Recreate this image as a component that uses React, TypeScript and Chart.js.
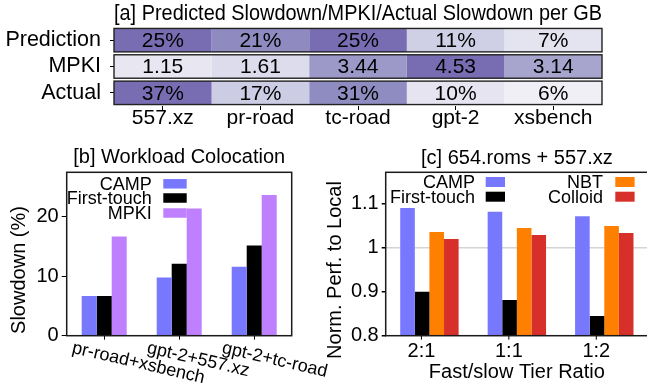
import React, { useEffect, useRef } from 'react';
import { Chart, registerables } from 'chart.js';

Chart.register(...registerables);

const FONT = "'Liberation Sans', Arial, Helvetica, sans-serif";

// ---------- [a] heatmap data ----------
const heatColumns = ['557.xz', 'pr-road', 'tc-road', 'gpt-2', 'xsbench'];
const heatRows = ['Prediction', 'MPKI', 'Actual'];
const predictionSlowdown = [25, 21, 25, 11, 7];
const mpkiValues = [1.15, 1.61, 3.44, 4.53, 3.14];
const actualSlowdown = [37, 17, 31, 10, 6];

// ---------- [b] workload colocation ----------
const colocationLabels = ['pr-road+xsbench', 'gpt-2+557.xz', 'gpt-2+tc-road'];
const colocationCamp = [6.7, 9.8, 11.6];
const colocationFirstTouch = [6.7, 12.1, 15.2];
const colocationMpki = [16.7, 21.4, 23.7];
const slowdownTicks = [0, 10, 20];

// ---------- [c] 654.roms + 557.xz ----------
const ratioLabels = ['2:1', '1:1', '1:2'];
const ratioCamp = [1.091, 1.082, 1.072];
const ratioFirstTouch = [0.9, 0.881, 0.845];
const ratioNbt = [1.036, 1.045, 1.05];
const ratioColloid = [1.02, 1.029, 1.034];
const perfTicks = [0.8, 0.9, 1, 1.1];

const COLORS = {
  camp: '#7878ff',
  first: '#000000',
  mpki: '#bf80ff',
  nbt: '#ff8000',
  colloid: '#d7302a',
};

const PURPLES = [
  [252, 251, 253], [239, 237, 245], [218, 218, 235], [188, 189, 220],
  [158, 154, 200], [128, 125, 186], [106, 81, 163], [84, 39, 143], [63, 0, 125],
];
function purples(p: number) {
  const s = Math.max(0, Math.min(1, p)) * 8;
  const i = Math.min(7, Math.floor(s));
  const f = s - i;
  const a = PURPLES[i], b = PURPLES[i + 1];
  const c = a.map((v, k) => Math.round(v + (b[k] - v) * f));
  return `rgb(${c[0]},${c[1]},${c[2]})`;
}
function heatColor(v: number, max: number) {
  return purples((v / max) * 0.67);
}

const framePlugin = {
  id: 'frame',
  afterDatasetsDraw(chart: any, _a: any, opts: any) {
    if (!opts || !opts.show) return;
    const { ctx, chartArea: ca } = chart;
    ctx.save();
    ctx.strokeStyle = '#1a1a1a';
    ctx.lineWidth = 1.5;
    ctx.strokeRect(ca.left, ca.top, ca.right - ca.left, ca.bottom - ca.top);
    ctx.restore();
  },
};

const shiftedTickMarks = {
  id: 'shiftedTickMarks',
  afterDraw(chart: any, _a: any, opts: any) {
    if (!opts || !opts.show) return;
    const { ctx, chartArea: ca } = chart;
    const xs = chart.scales.x;
    ctx.save();
    ctx.strokeStyle = '#000';
    ctx.lineWidth = 1;
    (chart.data.labels as string[]).forEach((_l, i) => {
      const px = xs.getPixelForValue(i) + opts.dx;
      ctx.beginPath();
      ctx.moveTo(px, ca.bottom);
      ctx.lineTo(px, ca.bottom + opts.length);
      ctx.stroke();
    });
    ctx.restore();
  },
};

const manualLegend = {
  id: 'manualLegend',
  afterDraw(chart: any, _a: any, opts: any) {
    if (!opts || !opts.entries) return;
    const ctx = chart.ctx;
    ctx.save();
    ctx.font = `${opts.fontSize}px ${FONT}`;
    ctx.textAlign = 'right';
    ctx.textBaseline = 'middle';
    opts.entries.forEach((e: any, i: number) => {
      const ds = chart.data.datasets[i];
      ctx.fillStyle = '#000';
      ctx.fillText(ds.label, e.textRight, e.y + 1);
      ctx.fillStyle = ds.backgroundColor;
      ctx.fillRect(e.boxLeft, e.y - opts.boxHeight / 2, e.boxWidth, opts.boxHeight);
    });
    ctx.restore();
  },
};

const yTitlePlugin = {
  id: 'yTitle',
  afterDraw(chart: any, _a: any, opts: any) {
    if (!opts || !opts.text) return;
    const ctx = chart.ctx;
    ctx.save();
    ctx.font = `${opts.fontSize}px ${FONT}`;
    ctx.fillStyle = '#000';
    ctx.textAlign = 'center';
    ctx.textBaseline = 'middle';
    ctx.translate(opts.x, opts.y);
    ctx.rotate(-Math.PI / 2);
    ctx.fillText(opts.text, 0, 0);
    ctx.restore();
  },
};

const slantedTicks = {
  id: 'slantedTicks',
  afterDraw(chart: any, _a: any, opts: any) {
    if (!opts || !opts.show) return;
    const ctx = chart.ctx;
    const xs = chart.scales.x;
    ctx.save();
    ctx.font = `${opts.fontSize}px ${FONT}`;
    ctx.fillStyle = '#000';
    ctx.textAlign = 'left';
    ctx.textBaseline = 'alphabetic';
    (chart.data.labels as string[]).forEach((lab, i) => {
      const px = xs.getPixelForValue(i);
      ctx.save();
      ctx.translate(px + opts.dx, opts.baselineY);
      ctx.rotate((opts.angle * Math.PI) / 180);
      ctx.fillText(lab, 0, 0);
      ctx.restore();
    });
    ctx.restore();
  },
};

const heatCells = {
  id: 'heatCells',
  afterDatasetsDraw(chart: any, _a: any, opts: any) {
    if (!opts || !opts.rows) return;
    const ctx = chart.ctx;
    const xs = chart.scales.x;
    const n = chart.data.datasets.length;
    ctx.save();
    ctx.font = `${opts.fontSize}px ${FONT}`;
    ctx.fillStyle = '#000';
    ctx.textAlign = 'center';
    ctx.textBaseline = 'middle';
    for (let ci = 0; ci < n; ci++) {
      const meta = chart.getDatasetMeta(ci);
      meta.data.forEach((el: any, ri: number) => {
        const p = el.getCenterPoint();
        ctx.fillText(opts.format[ri](opts.rows[ri][ci]), p.x, p.y + 1);
      });
    }
    const first = chart.getDatasetMeta(0);
    first.data.forEach((el: any) => {
      const { y, height } = el.getProps(['y', 'height'], true);
      const l = xs.getPixelForValue(0);
      const r = xs.getPixelForValue(n);
      ctx.strokeStyle = '#222';
      ctx.lineWidth = 1.4;
      ctx.strokeRect(l, y - height / 2, r - l, height);
    });
    ctx.restore();
  },
};

const tickFont = (size: number) => ({ family: FONT, size });

export default function App() {
  const refA = useRef<HTMLCanvasElement>(null);
  const refB = useRef<HTMLCanvasElement>(null);
  const refC = useRef<HTMLCanvasElement>(null);

  useEffect(() => {
    const heatData = [predictionSlowdown, mpkiValues, actualSlowdown];
    const fmt = [
      (v: number) => `${v}%`,
      (v: number) => v.toFixed(2),
      (v: number) => `${v}%`,
    ];

    const chartA = new Chart(refA.current as HTMLCanvasElement, {
      type: 'bar',
      data: {
        labels: heatRows,
        datasets: heatColumns.map((col, ci) => ({
          label: col,
          data: heatData.map(() => 1),
          backgroundColor: heatData.map((row) => heatColor(row[ci], Math.max(...row))),
          borderWidth: 0,
          categoryPercentage: 0.89,
          barPercentage: 1,
        })),
      },
      options: {
        indexAxis: 'y',
        animation: false,
        responsive: false,
        events: [],
        layout: { padding: { left: 0, right: 45, top: 0, bottom: 0 } },
        scales: {
          x: {
            type: 'linear',
            stacked: true,
            min: 0,
            max: heatColumns.length,
            afterBuildTicks: (s: any) => {
              s.ticks = heatColumns.map((_, i) => ({ value: i + 0.5 }));
            },
            afterFit: (s: any) => { s.height = 24; },
            ticks: {
              autoSkip: false,
              maxRotation: 0,
              padding: -4.5,
              color: '#000',
              font: tickFont(21),
              callback: (v: any) => heatColumns[Math.floor(Number(v))],
            },
            grid: { drawOnChartArea: false, tickLength: 4, color: '#000' },
            border: { display: false },
          },
          y: {
            stacked: true,
            afterFit: (s: any) => { s.width = 114; },
            ticks: { autoSkip: false, padding: 9, color: '#000', font: tickFont(21.5) },
            grid: { offset: false, drawOnChartArea: false, tickLength: 4, color: '#000' },
            border: { display: false },
          },
        },
        plugins: {
          legend: { display: false },
          tooltip: { enabled: false },
          title: {
            display: true,
            text: '[a] Predicted Slowdown/MPKI/Actual Slowdown per GB',
            fullSize: false,
            color: '#000',
            font: { family: FONT, size: 21.5, weight: 'normal' },
            padding: { top: 1.1, bottom: 0.1 },
          },
          heatCells: { rows: heatData, format: fmt, fontSize: 21 },
        } as any,
      },
      plugins: [heatCells],
    } as any);

    const chartB = new Chart(refB.current as HTMLCanvasElement, {
      type: 'bar',
      data: {
        labels: colocationLabels,
        datasets: [
          { label: 'CAMP', data: colocationCamp, backgroundColor: COLORS.camp },
          { label: 'First-touch', data: colocationFirstTouch, backgroundColor: COLORS.first },
          { label: 'MPKI', data: colocationMpki, backgroundColor: COLORS.mpki },
        ].map((d) => ({ ...d, categoryPercentage: 0.6, barPercentage: 1, borderWidth: 0 })),
      },
      options: {
        animation: false,
        responsive: false,
        events: [],
        layout: { padding: { left: 0, right: 48.3, top: 0, bottom: 0 } },
        scales: {
          x: {
            afterFit: (s: any) => { s.height = 48.3; },
            ticks: { callback: () => '', font: tickFont(10) },
            grid: { offset: false, drawOnChartArea: false, tickLength: 4, color: '#000' },
            border: { display: false },
          },
          y: {
            min: 0,
            max: 27.5,
            afterBuildTicks: (s: any) => {
              s.ticks = slowdownTicks.map((v) => ({ value: v }));
            },
            afterFit: (s: any) => { s.width = 66.7; },
            ticks: { padding: 3, color: '#000', font: tickFont(20) },
            grid: { drawOnChartArea: false, tickLength: 5, color: '#000' },
            border: { display: false },
          },
        },
        plugins: {
          legend: { display: false },
          tooltip: { enabled: false },
          title: {
            display: true,
            text: '[b] Workload Colocation',
            fullSize: false,
            color: '#000',
            font: { family: FONT, size: 20, weight: 'normal' },
            padding: { top: 15, bottom: 3.3 },
          },
          frame: { show: true },
          manualLegend: {
            fontSize: 18,
            boxHeight: 9.5,
            entries: [
              { textRight: 151.7, boxLeft: 163.3, boxWidth: 23.4, y: 53.8 },
              { textRight: 151.7, boxLeft: 163.3, boxWidth: 23.4, y: 68 },
              { textRight: 151.7, boxLeft: 163.3, boxWidth: 23.4, y: 83 },
            ],
          },
          yTitle: { text: 'Slowdown (%)', x: 19, y: 140, fontSize: 20 },
          slantedTicks: { show: true, fontSize: 18, dx: -33, baselineY: 222.7, angle: 13 },
        } as any,
      },
      plugins: [framePlugin, manualLegend, yTitlePlugin, slantedTicks],
    } as any);

    const chartC = new Chart(refC.current as HTMLCanvasElement, {
      type: 'bar',
      data: {
        labels: ratioLabels,
        datasets: [
          { label: 'CAMP', data: ratioCamp, backgroundColor: COLORS.camp },
          { label: 'First-touch', data: ratioFirstTouch, backgroundColor: COLORS.first },
          { label: 'NBT', data: ratioNbt, backgroundColor: COLORS.nbt },
          { label: 'Colloid', data: ratioColloid, backgroundColor: COLORS.colloid },
        ].map((d) => ({ ...d, categoryPercentage: 0.668, barPercentage: 1, borderWidth: 0 })),
      },
      options: {
        animation: false,
        responsive: false,
        events: [],
        layout: { padding: 0 },
        scales: {
          x: {
            afterFit: (s: any) => { s.height = 48.3; },
            ticks: { padding: 0, color: '#000', font: tickFont(20), maxRotation: 0, labelOffset: -8 },
            grid: { offset: false, drawOnChartArea: false, tickLength: 4, color: 'rgba(0,0,0,0)' },
            border: { display: false },
            title: {
              display: true,
              text: 'Fast/slow Tier Ratio',
              color: '#000',
              font: tickFont(20),
              padding: { top: 0, bottom: 0 },
            },
          },
          y: {
            min: 0.8,
            max: 1.172,
            afterBuildTicks: (s: any) => {
              s.ticks = perfTicks.map((v) => ({ value: v }));
            },
            afterFit: (s: any) => { s.width = 63.7; },
            ticks: {
              padding: 3,
              color: '#000',
              font: tickFont(20),
              callback: (v: any) => String(Math.round(Number(v) * 100) / 100),
            },
            grid: {
              drawOnChartArea: true,
              tickLength: 4,
              tickColor: '#000',
              lineWidth: 1.5,
              color: (c: any) => (c.tick && Math.abs(c.tick.value - 1) < 1e-9 ? '#d4d4d4' : 'rgba(0,0,0,0)'),
            },
            border: { display: false },
          },
        },
        plugins: {
          legend: { display: false },
          tooltip: { enabled: false },
          title: {
            display: true,
            text: '[c] 654.roms + 557.xz',
            fullSize: false,
            color: '#000',
            font: { family: FONT, size: 20, weight: 'normal' },
            padding: { top: 16, bottom: 2.3 },
          },
          frame: { show: true },
          shiftedTickMarks: { show: true, dx: -8, length: 4 },
          manualLegend: {
            fontSize: 18,
            boxHeight: 10,
            entries: [
              { textRight: 153, boxLeft: 163.7, boxWidth: 19.3, y: 52 },
              { textRight: 153, boxLeft: 163.7, boxWidth: 19.3, y: 66.7 },
              { textRight: 281, boxLeft: 293.3, boxWidth: 19.3, y: 52 },
              { textRight: 281, boxLeft: 293.3, boxWidth: 19.3, y: 66.7 },
            ],
          },
          yTitle: { text: 'Norm. Perf. to Local', x: 13, y: 140, fontSize: 20 },
        } as any,
      },
      plugins: [framePlugin, shiftedTickMarks, manualLegend, yTitlePlugin],
    } as any);

    return () => {
      chartA.destroy();
      chartB.destroy();
      chartC.destroy();
    };
  }, []);

  return (
    <div
      style={{
        position: 'fixed',
        left: 0,
        top: 0,
        width: 647,
        height: 384,
        overflow: 'hidden',
        background: '#fff',
      }}
    >
      <canvas ref={refA} width={647} height={130} style={{ position: 'absolute', left: 0, top: 0, width: 647, height: 130 }} />
      <canvas ref={refB} width={340} height={254} style={{ position: 'absolute', left: 0, top: 130, width: 340, height: 254 }} />
      <canvas ref={refC} width={326} height={254} style={{ position: 'absolute', left: 322, top: 130, width: 326, height: 254 }} />
    </div>
  );
}
